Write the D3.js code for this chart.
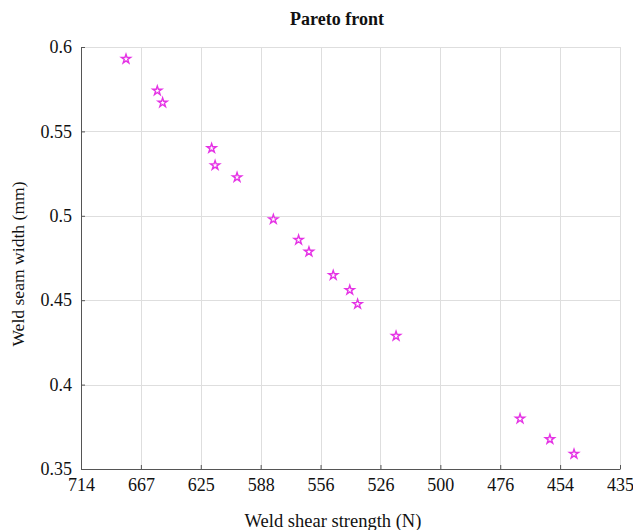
<!DOCTYPE html>
<html>
<head>
<meta charset="utf-8">
<script src="https://cdn.jsdelivr.net/npm/d3@7"></script>
<style>
  body { margin: 0; background: #fff; }
  svg { display: block; }
  text { font-family: "Liberation Serif", "Times New Roman", serif; fill: #111; }
</style>
</head>
<body>
<svg id="chart" width="633" height="530"></svg>
<script>
// Pareto-optimal solutions: shear strength (N) vs. seam width (mm)
const shearStrength = [677.9, 654.7, 650.9, 618.0, 615.8, 602.2, 581.0, 567.1, 561.6,
                       549.1, 540.9, 537.1, 519.2, 468.8, 458.1, 449.8];
const seamWidth = [0.5929, 0.5741, 0.5670, 0.5400, 0.5299, 0.5228, 0.4979, 0.4857, 0.4787,
                   0.4648, 0.4560, 0.4477, 0.4288, 0.3798, 0.3676, 0.3589];
// Strength axis is linear in 1/strength; labels are the rounded strengths
const strengthTicks = [714, 667, 625, 588, 556, 526, 500, 476, 454, 435];
const widthTicks = [0.35, 0.4, 0.45, 0.5, 0.55, 0.6];

const svg = d3.select("#chart");
const m = { left: 81, right: 620, top: 47, bottom: 469 };

const x = d3.scaleLinear().domain([0.0014, 0.0023]).range([m.left, m.right]);
const y = d3.scaleLinear().domain([0.35, 0.6]).range([m.bottom, m.top]);
const xPos = s => x(1 / s);
const reciprocalTicks = strengthTicks.map((t, i) => 0.0014 + i * 0.0001);

// grid
const grid = svg.append("g").attr("stroke", "#dedede").attr("stroke-width", 1);
grid.selectAll("line.v").data(reciprocalTicks).join("line")
  .attr("x1", d => Math.round(x(d)) + 0.5).attr("x2", d => Math.round(x(d)) + 0.5)
  .attr("y1", m.top).attr("y2", m.bottom);
grid.selectAll("line.h").data(widthTicks).join("line")
  .attr("y1", d => Math.round(y(d)) + 0.5).attr("y2", d => Math.round(y(d)) + 0.5)
  .attr("x1", m.left).attr("x2", m.right);

// axes
const xAxis = d3.axisBottom(x).tickValues(reciprocalTicks)
  .tickFormat((d, i) => strengthTicks[i]).tickSizeInner(-4).tickSizeOuter(0).tickPadding(9);
const yAxis = d3.axisLeft(y).tickValues(widthTicks)
  .tickFormat(d => String(d)).tickSizeInner(-4).tickSizeOuter(0).tickPadding(9);

const gx = svg.append("g").attr("transform", `translate(0,${m.bottom})`).call(xAxis);
const gy = svg.append("g").attr("transform", `translate(${m.left},0)`).call(yAxis);
[gx, gy].forEach(g => {
  g.selectAll("path, line").attr("stroke", "#555");
  g.selectAll("text").style("font-size", "18px").attr("fill", "#111")
    .style("font-family", "'Liberation Serif', serif");
});

// titles
svg.append("text").attr("x", 337).attr("y", 25)
  .attr("text-anchor", "middle").style("font-size", "18px").style("font-weight", "bold")
  .text("Pareto front");
svg.append("text").attr("x", 333).attr("y", 527)
  .attr("text-anchor", "middle").style("font-size", "18.5px")
  .text("Weld shear strength (N)");
svg.append("text").attr("transform", `translate(24,264) rotate(-90)`)
  .attr("text-anchor", "middle").style("font-size", "17.6px")
  .text("Weld seam width (mm)");

// star markers
const star = d3.symbol().type(d3.symbolStar).size(26);
svg.append("g").selectAll("path").data(shearStrength).join("path")
  .attr("d", star)
  .attr("transform", (d, i) => `translate(${xPos(d)},${y(seamWidth[i])})`)
  .attr("fill", "none").attr("stroke", "#e533e5").attr("stroke-width", 1.4);
</script>
</body>
</html>
